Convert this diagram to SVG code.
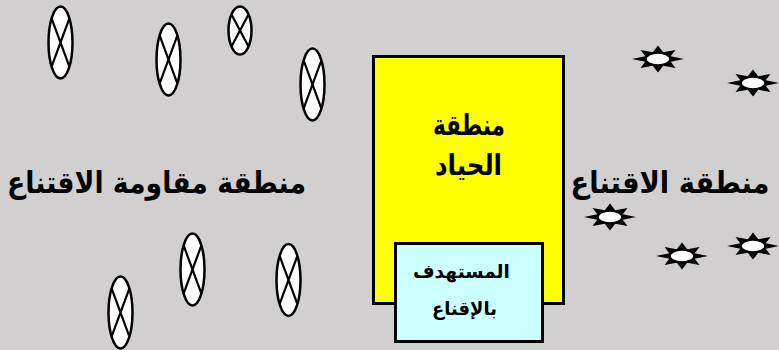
<svg xmlns="http://www.w3.org/2000/svg" xmlns:xlink="http://www.w3.org/1999/xlink" width="779" height="350" viewBox="0 0 779 350">
<defs>
<style>
.bg{fill:#D1CFD0}
.ov{fill:#fff;stroke:#000;stroke-width:2.5}
.x{stroke:#000;stroke-width:2.2;fill:none}
.lbl{font-family:"DejaVu Sans","Liberation Sans",sans-serif;font-weight:bold;fill:#000;text-anchor:middle;direction:rtl}
.big{font-size:30px}
.mid{font-size:29px}
.sm{font-size:19px}
.zone{fill:#FFFF00;stroke:#000;stroke-width:3}
.target{fill:#CCFFFF;stroke:#000;stroke-width:3}
.star{fill:#000}
.starc{fill:#fff;stroke:#000;stroke-width:1.5}
</style>
<g id="starShape">
<polygon class="star" points="26,0 12.7,2.84 17.5,9 5.26,6.86 0,13.5 -5.26,6.86 -17.5,9 -12.7,2.84 -26,0 -12.7,-2.84 -17.5,-9 -5.26,-6.86 0,-13.5 5.26,-6.86 17.5,-9 12.7,-2.84"/>
<ellipse class="starc" cx="0" cy="0" rx="12" ry="6"/>
</g>
</defs>
<rect class="bg" x="0" y="0" width="779" height="350"/>

<g id="resist-1"><ellipse class="ov" cx="60.5" cy="42.5" rx="12" ry="36"/><path class="x" d="M51.6,18.4 L69.4,66.6 M69.4,18.4 L51.6,66.6"/></g>
<g id="resist-2"><ellipse class="ov" cx="168.5" cy="59.5" rx="12" ry="36"/><path class="x" d="M159.6,35.4 L177.4,83.6 M177.4,35.4 L159.6,83.6"/></g>
<g id="resist-3"><ellipse class="ov" cx="240" cy="30.5" rx="11.5" ry="24"/><path class="x" d="M231.5,14.4 L248.5,46.6 M248.5,14.4 L231.5,46.6"/></g>
<g id="resist-4"><ellipse class="ov" cx="312.5" cy="84.5" rx="12" ry="36"/><path class="x" d="M303.6,60.4 L321.4,108.6 M321.4,60.4 L303.6,108.6"/></g>
<g id="resist-5"><ellipse class="ov" cx="120.5" cy="312.5" rx="12" ry="36"/><path class="x" d="M111.6,288.4 L129.4,336.6 M129.4,288.4 L111.6,336.6"/></g>
<g id="resist-6"><ellipse class="ov" cx="192.5" cy="269.5" rx="12" ry="36"/><path class="x" d="M183.6,245.4 L201.4,293.6 M201.4,245.4 L183.6,293.6"/></g>
<g id="resist-7"><ellipse class="ov" cx="288.5" cy="280" rx="12" ry="36"/><path class="x" d="M279.6,255.9 L297.4,304.1 M297.4,255.9 L279.6,304.1"/></g>

<g id="persuaded-1"><use xlink:href="#starShape" transform="translate(658,59)"/></g>
<g id="persuaded-2"><use xlink:href="#starShape" transform="translate(753,83)"/></g>
<g id="persuaded-3"><use xlink:href="#starShape" transform="translate(610,217)"/></g>
<g id="persuaded-4"><use xlink:href="#starShape" transform="translate(753,246)"/></g>
<g id="persuaded-5"><use xlink:href="#starShape" transform="translate(682,256)"/></g>

<g id="resistance-zone-label"><text class="lbl big" transform="translate(156.5,193) scale(0.89,1)" x="0" y="0">منطقة مقاومة الاقتناع</text></g>
<g id="persuasion-zone-label"><text class="lbl big" transform="translate(670,193) scale(0.91,1)" x="0" y="0">منطقة الاقتناع</text></g>

<g id="neutral-zone">
<rect class="zone" x="373.5" y="56.5" width="190" height="247"/>
<text class="lbl mid" x="469" y="135" textLength="72" lengthAdjust="spacingAndGlyphs">منطقة</text>
<text class="lbl mid" x="468.5" y="175" textLength="67" lengthAdjust="spacingAndGlyphs">الحياد</text>
</g>
<g id="target">
<rect class="target" x="395.5" y="243.5" width="147" height="98"/>
<text class="lbl sm" x="461.5" y="278" textLength="97" lengthAdjust="spacingAndGlyphs">المستهدف</text>
<text class="lbl sm" x="464.5" y="315" textLength="65" lengthAdjust="spacingAndGlyphs">بالإقناع</text>
</g>
<g id="connectors"/>
</svg>
